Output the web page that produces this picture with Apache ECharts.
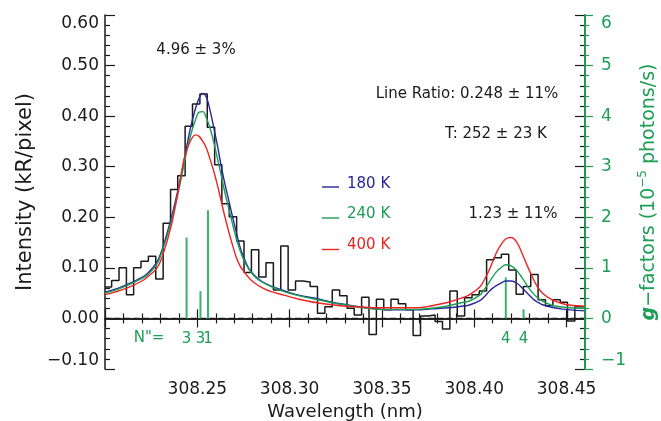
<!DOCTYPE html>
<html><head><meta charset="utf-8">
<script src="https://cdn.jsdelivr.net/npm/echarts@6/dist/echarts.min.js"></script>
<style>html,body{margin:0;padding:0;background:#fff}#c{width:661px;height:421px}</style>
</head><body><div id="c"></div>
<script>
// ---- observed spectrum (histogram, step at bin edges) ----
const histStart = 308.2000;
const histEnd = 308.4600;
const histEdges = [308.2036,308.2076,308.2116,308.2155,308.2195,308.2235,308.2275,308.2315,308.2355,308.2394,
  308.2434,308.2474,308.2514,308.2554,308.2594,308.2633,308.2673,308.2713,308.2753,308.2793,
  308.2833,308.2872,308.2912,308.2952,308.2992,308.3032,308.3072,308.3111,308.3151,308.3191,
  308.3231,308.3271,308.3311,308.3350,308.3390,308.3430,308.3470,308.3510,308.3549,308.3589,
  308.3629,308.3669,308.3709,308.3749,308.3788,308.3828,308.3868,308.3908,308.3948,308.3988,
  308.4027,308.4067,308.4107,308.4147,308.4187,308.4227,308.4266,308.4306,308.4346,308.4386,
  308.4426,308.4466,308.4505,308.4545,308.4585];
// first value = partial bin before the first edge
const histValues = [0.062,
  0.075,0.100,0.047,0.100,0.113,0.123,0.078,0.188,0.255,0.282,
  0.380,0.424,0.444,0.378,0.304,0.227,0.201,0.153,0.091,0.136,
  0.082,0.110,0.056,0.143,0.056,0.074,0.072,0.063,0.010,0.023,
  0.056,0.045,0.020,0.007,0.042,-0.032,0.038,0.017,0.038,0.029,
  0.017,-0.034,0.005,0.007,-0.006,-0.021,0.054,0.005,0.041,0.047,
  0.054,0.116,0.120,0.127,0.096,0.048,0.063,0.087,0.037,0.025,
  0.037,0.032,-0.005,0.023,0.023];

// ---- model spectra ----
const modelWavelengths = [308.200,308.208,308.215,308.220,308.223,308.228,308.231,308.236,308.240,308.243,
  308.246,308.249,308.251,308.253,308.255,308.257,308.259,308.261,308.263,308.265,
  308.267,308.269,308.271,308.273,308.275,308.278,308.281,308.285,308.290,308.297,
  308.305,308.315,308.323,308.331,308.340,308.350,308.360,308.369,308.377,308.386,
  308.393,308.397,308.403,308.406,308.408,308.410,308.412,308.414,308.417,308.420,
  308.423,308.426,308.429,308.432,308.434,308.437,308.442,308.447,308.452,308.460];
const model180 = [0.052,0.061,0.072,0.081,0.089,0.111,0.137,0.200,0.262,0.315,
  0.372,0.415,0.436,0.445,0.437,0.410,0.376,0.340,0.300,0.265,
  0.234,0.202,0.172,0.143,0.122,0.098,0.085,0.073,0.064,0.055,
  0.046,0.039,0.032,0.027,0.022,0.018,0.017,0.017,0.019,0.021,
  0.024,0.026,0.035,0.045,0.053,0.060,0.065,0.069,0.074,0.074,
  0.070,0.060,0.049,0.038,0.033,0.027,0.022,0.019,0.017,0.015];
const model240 = [0.050,0.059,0.070,0.079,0.086,0.107,0.133,0.193,0.255,0.308,
  0.357,0.393,0.408,0.409,0.396,0.375,0.347,0.315,0.282,0.248,
  0.218,0.188,0.160,0.136,0.117,0.097,0.083,0.072,0.063,0.053,
  0.045,0.037,0.031,0.026,0.021,0.018,0.018,0.018,0.020,0.025,
  0.031,0.034,0.046,0.060,0.071,0.082,0.092,0.099,0.106,0.104,
  0.095,0.080,0.063,0.049,0.042,0.034,0.026,0.023,0.021,0.020];
const model400 = [0.047,0.055,0.065,0.074,0.082,0.099,0.122,0.185,0.258,0.318,
  0.349,0.363,0.360,0.350,0.336,0.314,0.290,0.262,0.231,0.200,
  0.172,0.146,0.122,0.105,0.094,0.080,0.070,0.061,0.053,0.046,
  0.038,0.031,0.027,0.024,0.022,0.021,0.021,0.021,0.025,0.032,
  0.040,0.046,0.062,0.080,0.095,0.112,0.130,0.143,0.157,0.160,
  0.151,0.128,0.102,0.078,0.064,0.050,0.037,0.030,0.026,0.024];

// ---- g-factor sticks ----
const stickWavelengths = [308.2442, 308.2517, 308.2558, 308.4171, 308.4267];
const stickGFactors = [1.60, 0.54, 2.14, 0.81, 0.18];
const stickLabels = ['3', '3', '1', '4', '4'];

// ---- axes ----
const xMin = 308.20, xMax = 308.46, xStep = 0.05;
const yMin = -0.10, yMax = 0.60, yStep = 0.10;
const gMin = -1, gMax = 6, gStep = 1;

const BLUE = '#28289a', GREEN = '#1d9e55', RED = '#ee2424', STICK = '#3ab36c', INK = '#1a1a1a';
const FONT = '"DejaVu Sans", sans-serif';

const histData = [[histStart, histValues[0]]];
histEdges.forEach((e, i) => histData.push([e, histValues[i + 1]]));
histData.push([histEnd, histValues[histValues.length - 1]]);

const pair = (ys) => modelWavelengths.map((w, i) => [w, ys[i]]);
const fmtMinus = (s) => s.replace('-', '\u2212');

const chart = echarts.init(document.getElementById('c'), null, {renderer: 'canvas'});
const grid = {left: 105, right: 76, top: 15, bottom: 52, containLabel: false, outerBoundsMode: 'none'};

const xCommon = {type: 'value', min: xMin, max: xMax, interval: xStep,
  splitLine: {show: false},
  axisLine: {lineStyle: {color: INK, width: 1.5}},
  axisTick: {inside: true, length: 9, lineStyle: {color: INK, width: 1.2}},
  minorTick: {show: true, splitNumber: 5, length: 5, lineStyle: {color: INK, width: 1.2}}};

const option = {
  animation: false,
  backgroundColor: '#fff',
  grid: grid,
  xAxis: [
    Object.assign({}, xCommon, {position: 'bottom',
      axisLabel: {fontFamily: FONT, fontSize: 17, color: INK, margin: 12,
        showMinLabel: false, showMaxLabel: false, formatter: v => v.toFixed(2)},
      name: 'Wavelength (nm)', nameLocation: 'middle', nameGap: 33,
      nameTextStyle: {fontFamily: FONT, fontSize: 18, color: INK}}),
    Object.assign({}, xCommon, {position: 'top', axisLabel: {show: false}})
  ],
  yAxis: [
    {type: 'value', min: yMin, max: yMax, interval: yStep, position: 'left',
      splitLine: {show: false},
      axisLine: {lineStyle: {color: INK, width: 1.5}},
      axisTick: {inside: true, length: 10, lineStyle: {color: INK, width: 1.2}},
      minorTick: {show: true, splitNumber: 5, length: 5, lineStyle: {color: INK, width: 1.2}},
      axisLabel: {fontFamily: FONT, fontSize: 17, color: INK, margin: 6,
        verticalAlignMaxLabel: 'top', verticalAlignMinLabel: 'bottom',
        formatter: v => fmtMinus(v.toFixed(2))},
      name: 'Intensity (kR/pixel)', nameLocation: 'middle', nameGap: 68, nameRotate: 90,
      nameTextStyle: {fontFamily: FONT, fontSize: 21, color: INK}},
    {type: 'value', min: gMin, max: gMax, interval: gStep, position: 'right', z: 5,
      splitLine: {show: false},
      axisLine: {lineStyle: {color: GREEN, width: 1.8}},
      axisTick: {inside: false, length: 8, lineStyle: {color: GREEN, width: 1.2}},
      minorTick: {show: true, splitNumber: 5, length: 4, lineStyle: {color: GREEN, width: 1.2}},
      axisLabel: {fontFamily: FONT, fontSize: 17, color: GREEN, margin: 16,
        verticalAlignMaxLabel: 'top', verticalAlignMinLabel: 'bottom',
        formatter: v => fmtMinus(String(v))},
      name: '{gi|g}\u2212factors (10{sup|\u22125} photons/s)', nameLocation: 'middle', nameGap: 49, nameRotate: 90,
      nameTextStyle: {fontFamily: FONT, fontSize: 19, color: GREEN, lineHeight: 24,
        rich: {gi: {fontFamily: FONT, fontSize: 19, fontWeight: 'bold', fontStyle: 'italic', color: GREEN, lineHeight: 24},
               sup: {fontFamily: FONT, fontSize: 12, color: GREEN, verticalAlign: 'top', lineHeight: 24}}}},
    {type: 'value', min: yMin, max: yMax, interval: yStep, position: 'right', z: 1,
      splitLine: {show: false},
      axisLine: {lineStyle: {color: INK, width: 1.5}},
      axisTick: {inside: true, length: 10, lineStyle: {color: INK, width: 1.2}},
      minorTick: {show: true, splitNumber: 5, length: 5, lineStyle: {color: INK, width: 1.2}},
      axisLabel: {show: false}}
  ],
  graphic: [],
  series: [
    {type: 'line', name: 'zero', data: [[xMin, 0], [xMax, 0]], symbol: 'none', silent: true,
      lineStyle: {color: INK, width: 1.3, type: [6, 3.5]}, z: 1},
    {type: 'custom', name: 'g-factors', xAxisIndex: 0, yAxisIndex: 1, z: 2,
      data: stickWavelengths.map((w, i) => [w, stickGFactors[i], i]),
      renderItem: function (params, api) {
        const x = api.value(0), g = api.value(1), idx = api.value(2);
        const p0 = api.coord([x, 0]), p1 = api.coord([x, g]), pl = api.coord([x, -0.4]);
        return {type: 'group', children: [
          {type: 'line', shape: {x1: p0[0], y1: p0[1], x2: p1[0], y2: p1[1]},
            style: {stroke: STICK, lineWidth: 2}},
          {type: 'text', x: pl[0], y: pl[1],
            style: {text: stickLabels[idx], fill: GREEN, font: '15px ' + FONT,
              textAlign: 'center', textVerticalAlign: 'middle'}}
        ]};
      }},
    {type: 'line', name: 'observed', data: histData, step: 'end', symbol: 'none', z: 3,
      lineStyle: {color: INK, width: 1.5}},
    {type: 'line', name: '180 K', data: pair(model180), smooth: 0.35, symbol: 'none', z: 4,
      lineStyle: {color: BLUE, width: 1.4}},
    {type: 'line', name: '240 K', data: pair(model240), smooth: 0.35, symbol: 'none', z: 4,
      lineStyle: {color: GREEN, width: 1.4}},
    {type: 'line', name: '400 K', data: pair(model400), smooth: 0.35, symbol: 'none', z: 4,
      lineStyle: {color: RED, width: 1.4}}
  ]
};

// annotations
const txt = (text, x, y, color, align) => ({type: 'text', x: x, y: y, z: 10,
  style: {text: text, fill: color, font: '15px ' + FONT, textAlign: align || 'center', textVerticalAlign: 'middle'}});
option.graphic.push(txt('4.96 \u00b1 3%', 196, 50, INK));
option.graphic.push(txt('Line Ratio: 0.248 \u00b1 11%', 467, 94, INK));
option.graphic.push(txt('T: 252 \u00b1 23 K', 496, 134, INK));
option.graphic.push(txt('1.23 \u00b1 11%', 513, 214, INK));
option.graphic.push(txt('N"=', 149, 338, GREEN));
const legendItems = [['180 K', BLUE, 184, 187], ['240 K', GREEN, 214, 218], ['400 K', RED, 245, 249.5]];
legendItems.forEach(([label, color, ty, ly]) => {
  option.graphic.push({type: 'line', z: 10, shape: {x1: 322, y1: ly, x2: 339, y2: ly}, style: {stroke: color, lineWidth: 1.4}});
  option.graphic.push(txt(label, 347, ty, color, 'left'));
});

chart.setOption(option);
</script></body></html>
